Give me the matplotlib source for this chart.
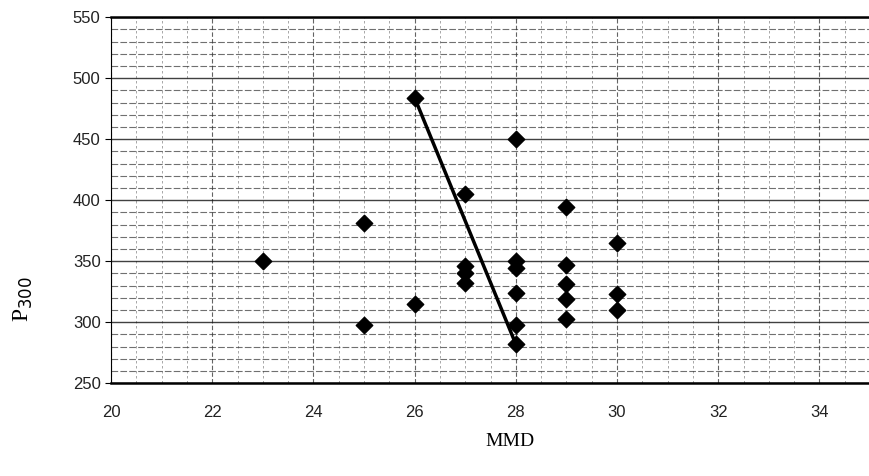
import matplotlib.pyplot as plt
import numpy as np

# data
mmd = [23, 25, 25, 26, 26, 27, 27, 27, 27, 28, 28, 28, 28, 28, 28,
       29, 29, 29, 29, 29, 30, 30, 30]
p300 = [350, 381, 298, 315, 484, 405, 346, 340, 332, 450, 350, 344, 324, 298, 282,
        394, 347, 331, 319, 303, 365, 323, 310]

# fitted line drawn on the chart
line_x = [26, 28]
line_y = [484, 282]

x_ticks = [20, 22, 24, 26, 28, 30, 32, 34]
y_ticks = [250, 300, 350, 400, 450, 500, 550]

fig = plt.figure(figsize=(8.7, 4.76), dpi=100, facecolor="white")
ax = fig.add_axes([0.1276, 0.195, 0.8724, 0.769])
ax.set_xlim(20, 35)
ax.set_ylim(250, 550)

# graph-paper style grid
ax.set_xticks(np.arange(20, 35.01, 0.5), minor=True)
ax.set_yticks(np.arange(250, 550.01, 10), minor=True)
ax.grid(which="minor", axis="x", color="#555555", lw=0.6, ls=(0, (3, 3)), alpha=0.6)
ax.grid(which="minor", axis="y", color="#333333", lw=0.8, ls=(0, (6, 2)), alpha=0.7)
ax.grid(which="major", axis="y", color="#111111", lw=1.0, alpha=0.8)
ax.grid(which="major", axis="x", color="#222222", lw=0.8, ls=(0, (4, 2)), alpha=0.7)
ax.set_axisbelow(True)

ax.plot(line_x, line_y, color="black", lw=2.5, zorder=3)
ax.scatter(mmd, p300, marker="D", s=70, color="black", zorder=4)

ax.set_xticks(x_ticks)
ax.set_yticks(y_ticks)
ax.tick_params(axis="x", which="both", length=0, labelsize=12, pad=16)
ax.tick_params(axis="y", which="major", length=4, labelsize=12, direction="out")
ax.tick_params(axis="y", which="minor", length=0)
for lab in ax.get_xticklabels() + ax.get_yticklabels():
    lab.set_family("Liberation Sans")
    lab.set_color("#222222")

for side in ["top", "bottom"]:
    ax.spines[side].set_linewidth(1.8)
ax.spines["left"].set_linewidth(0.8)
ax.spines["right"].set_visible(False)

ax.set_xlabel("MMD", family="Liberation Serif", fontsize=14)
ax.xaxis.set_label_coords(0.525, -0.135)
ax.set_ylabel("P$_{300}$", family="Liberation Serif", fontsize=17)
ax.yaxis.set_label_coords(-0.10, 0.23)

fig.savefig("out.png", dpi=100)
